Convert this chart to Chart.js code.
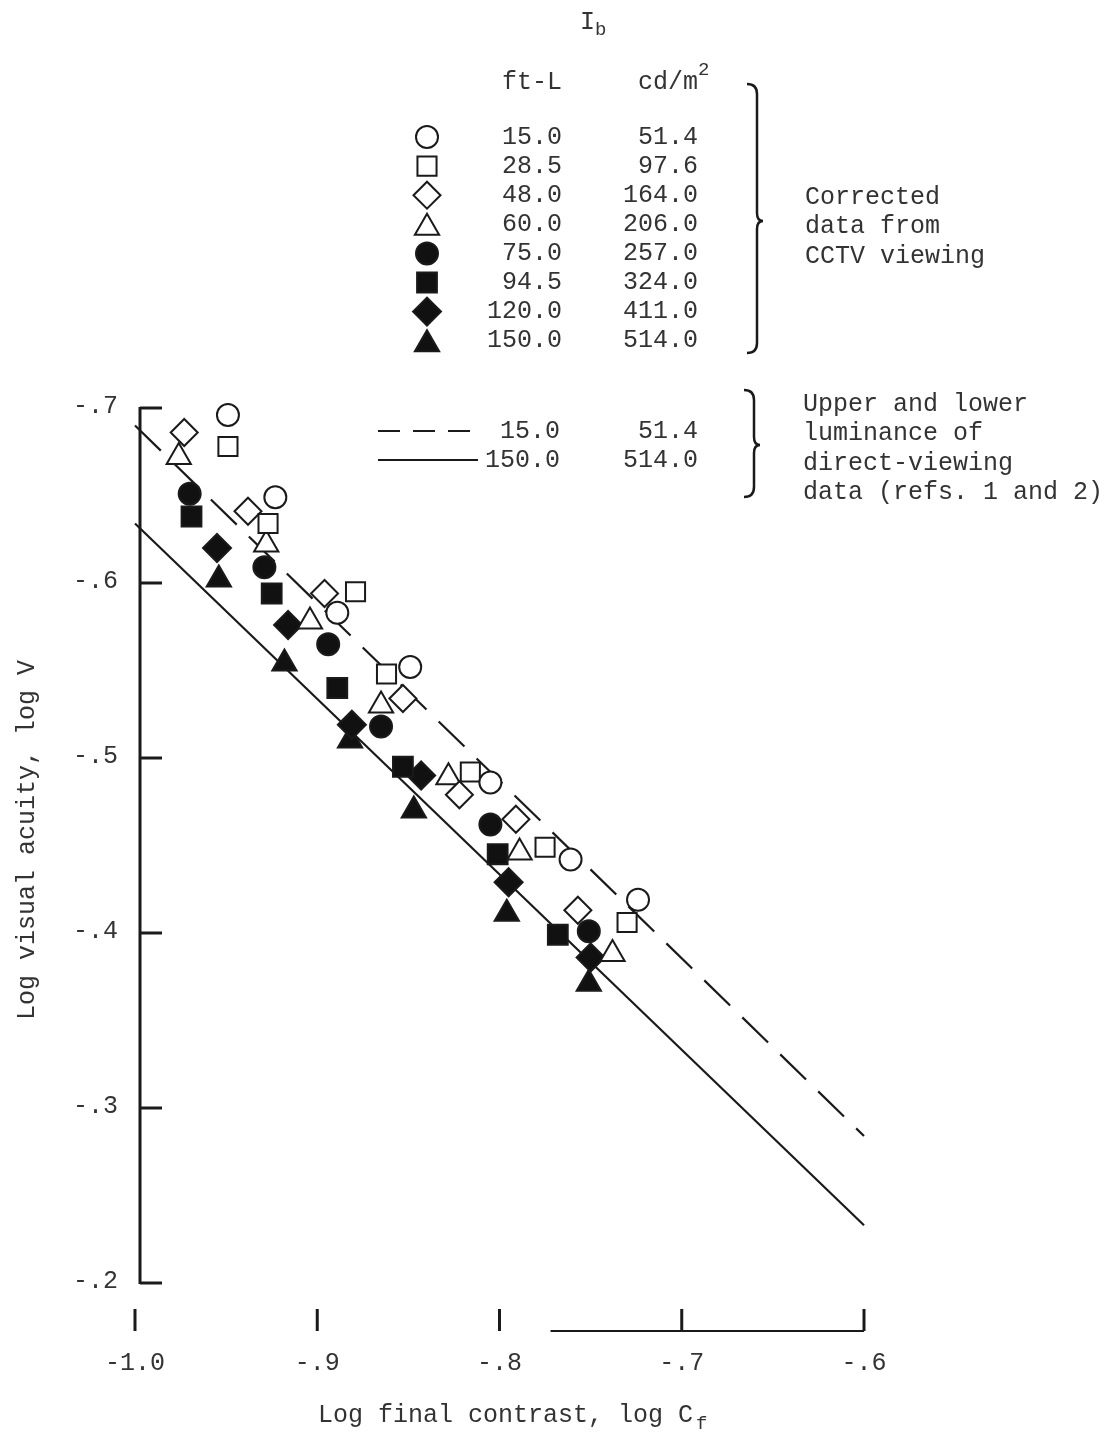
<!DOCTYPE html>
<html>
<head>
<meta charset="utf-8">
<script src="https://cdn.jsdelivr.net/npm/chart.js@4.4.1/dist/chart.umd.min.js"></script>
<style>
  html, body { margin: 0; padding: 0; background: #fff; }
  #wrap { width: 1114px; height: 1439px; }
</style>
</head>
<body>
<div id="wrap"><canvas id="chart" width="1114" height="1439"></canvas></div>
<script>
// axis ticks
const xTicks = [-1.0, -0.9, -0.8, -0.7, -0.6];
const xTickLabels = ['-1.0', '-.9', '-.8', '-.7', '-.6'];
const yTicks = [-0.7, -0.6, -0.5, -0.4, -0.3, -0.2];
const yTickLabels = ['-.7', '-.6', '-.5', '-.4', '-.3', '-.2'];

// background luminance I_b
const lumFtL = ['15.0', '28.5', '48.0', '60.0', '75.0', '94.5', '120.0', '150.0'];
const lumCd = ['51.4', '97.6', '164.0', '206.0', '257.0', '324.0', '411.0', '514.0'];

// corrected CCTV data (log Cf, log VA)
const ib15X = [-0.949, -0.923, -0.889, -0.849, -0.805, -0.761, -0.724];
const ib15Y = [-0.696, -0.649, -0.583, -0.552, -0.486, -0.442, -0.419];
const ib28X = [-0.949, -0.927, -0.879, -0.862, -0.816, -0.775, -0.730];
const ib28Y = [-0.678, -0.634, -0.595, -0.548, -0.492, -0.449, -0.406];
const ib48X = [-0.973, -0.938, -0.896, -0.853, -0.822, -0.791, -0.757];
const ib48Y = [-0.686, -0.641, -0.594, -0.534, -0.479, -0.465, -0.413];
const ib60X = [-0.976, -0.928, -0.904, -0.865, -0.828, -0.789, -0.738];
const ib60Y = [-0.672, -0.622, -0.578, -0.530, -0.489, -0.446, -0.388];
const ib75X = [-0.970, -0.929, -0.894, -0.865, -0.805, -0.751];
const ib75Y = [-0.651, -0.609, -0.565, -0.518, -0.462, -0.401];
const ib94X = [-0.969, -0.925, -0.889, -0.853, -0.801, -0.768];
const ib94Y = [-0.638, -0.594, -0.540, -0.495, -0.445, -0.399];
const ib120X = [-0.955, -0.916, -0.881, -0.843, -0.795, -0.750];
const ib120Y = [-0.620, -0.576, -0.519, -0.490, -0.429, -0.386];
const ib150X = [-0.954, -0.918, -0.882, -0.847, -0.796, -0.751];
const ib150Y = [-0.602, -0.554, -0.510, -0.470, -0.411, -0.371];

// direct-viewing reference lines
const upperLineX = [-1.0, -0.6];
const upperLineY = [-0.690, -0.284];
const lowerLineX = [-1.0, -0.6];
const lowerLineY = [-0.634, -0.233];

const FONT = '"Liberation Mono", "DejaVu Sans Mono", monospace';
const INK = '#1a1a1a';

function pts(xs, ys) {
  return xs.map((x, i) => ({ x: x, y: ys[i] }));
}

const markers = [
  { style: 'circle', r: 11, filled: false },
  { style: 'rect', r: 13.5, filled: false },
  { style: 'rectRot', r: 13.5, filled: false },
  { style: 'triangle', r: 14, filled: false },
  { style: 'circle', r: 11, filled: true },
  { style: 'rect', r: 14, filled: true },
  { style: 'rectRot', r: 14, filled: true },
  { style: 'triangle', r: 14, filled: true }
];
const seriesX = [ib15X, ib28X, ib48X, ib60X, ib75X, ib94X, ib120X, ib150X];
const seriesY = [ib15Y, ib28Y, ib48Y, ib60Y, ib75Y, ib94Y, ib120Y, ib150Y];

const datasets = markers.map((m, i) => ({
  type: 'scatter',
  label: lumFtL[i] + ' ft-L',
  data: pts(seriesX[i], seriesY[i]),
  pointStyle: m.style,
  pointRadius: m.r,
  pointHoverRadius: m.r,
  pointBorderWidth: 2,
  pointBorderColor: INK,
  pointBackgroundColor: m.filled ? '#111' : '#fff',
  showLine: false,
  clip: false
}));

datasets.push({
  type: 'line',
  label: 'Upper luminance (15.0 ft-L)',
  data: pts(upperLineX, upperLineY),
  borderColor: INK,
  borderWidth: 2.2,
  borderDash: [36, 17],
  pointRadius: 0,
  fill: false,
  clip: false
});
datasets.push({
  type: 'line',
  label: 'Lower luminance (150.0 ft-L)',
  data: pts(lowerLineX, lowerLineY),
  borderColor: INK,
  borderWidth: 2.2,
  pointRadius: 0,
  fill: false,
  clip: false
});

function marker(ctx, m, x, y) {
  ctx.save();
  ctx.lineWidth = 2;
  ctx.strokeStyle = INK;
  ctx.fillStyle = m.filled ? '#111' : '#fff';
  // triangles sit on their centroid, shift them to line up with the text
  const dy = m.style === 'triangle' ? m.r / 4 : 0;
  Chart.helpers.drawPoint(ctx, { pointStyle: m.style, radius: m.r, borderWidth: 2, rotation: 0 }, x, y + dy);
  ctx.restore();
}

function brace(ctx, x, top, mid, bottom) {
  ctx.save();
  ctx.strokeStyle = INK;
  ctx.lineWidth = 2.5;
  ctx.beginPath();
  ctx.moveTo(x - 10, top);
  ctx.quadraticCurveTo(x, top, x, top + 10);
  ctx.lineTo(x, mid - 8);
  ctx.quadraticCurveTo(x, mid, x + 6, mid);
  ctx.quadraticCurveTo(x, mid, x, mid + 8);
  ctx.lineTo(x, bottom - 10);
  ctx.quadraticCurveTo(x, bottom, x - 10, bottom);
  ctx.stroke();
  ctx.restore();
}

const paper = {
  id: 'paper',
  beforeDatasetsDraw(chart) {
    const ctx = chart.ctx;
    const xs = chart.scales.x, ys = chart.scales.y;
    ctx.save();
    ctx.strokeStyle = INK;
    ctx.fillStyle = '#333';
    ctx.font = '25px ' + FONT;

    // y axis with inward ticks
    const ax = xs.getPixelForValue(xTicks[0]) + 5;
    ctx.lineWidth = 3;
    ctx.beginPath();
    ctx.moveTo(ax, ys.getPixelForValue(yTicks[0]) - 1);
    ctx.lineTo(ax, ys.getPixelForValue(yTicks[yTicks.length - 1]) + 1);
    ctx.stroke();
    ctx.textAlign = 'right';
    ctx.textBaseline = 'middle';
    yTicks.forEach((v, i) => {
      const py = ys.getPixelForValue(v);
      ctx.beginPath();
      ctx.moveTo(ax, py);
      ctx.lineTo(ax + 22, py);
      ctx.stroke();
      ctx.fillText(yTickLabels[i], ax - 22, py - 2);
    });

    // x axis, set below the plot
    const by = ys.bottom + 48;
    ctx.lineWidth = 2;
    ctx.beginPath();
    ctx.moveTo(xs.getPixelForValue(-0.772), by);
    ctx.lineTo(xs.getPixelForValue(xTicks[xTicks.length - 1]), by);
    ctx.stroke();
    ctx.lineWidth = 3;
    ctx.textAlign = 'center';
    xTicks.forEach((v, i) => {
      const px = xs.getPixelForValue(v);
      ctx.beginPath();
      ctx.moveTo(px, by);
      ctx.lineTo(px, by - 22);
      ctx.stroke();
      ctx.fillText(xTickLabels[i], px, by + 32);
    });

    // axis titles
    ctx.textAlign = 'left';
    ctx.fillText('Log final contrast, log C', 318, 1415);
    ctx.font = '19px ' + FONT;
    ctx.fillText('f', 696, 1424);
    ctx.font = '25px ' + FONT;
    ctx.save();
    ctx.translate(27, 840);
    ctx.rotate(-Math.PI / 2);
    ctx.textAlign = 'center';
    ctx.fillText('Log visual acuity, log V', 0, 0);
    ctx.restore();
    ctx.restore();
  },
  afterDatasetsDraw(chart) {
    const ctx = chart.ctx;
    ctx.save();
    ctx.fillStyle = '#333';
    ctx.textBaseline = 'middle';
    ctx.font = '25px ' + FONT;

    // header
    ctx.textAlign = 'left';
    ctx.fillText('I', 580, 22);
    ctx.font = '19px ' + FONT;
    ctx.fillText('b', 595, 30);
    ctx.font = '25px ' + FONT;
    ctx.textAlign = 'center';
    ctx.fillText('ft-L', 532, 82);
    ctx.textAlign = 'left';
    ctx.fillText('cd/m', 638, 82);
    ctx.font = '19px ' + FONT;
    ctx.fillText('2', 698, 70);
    ctx.font = '25px ' + FONT;

    // marker rows
    markers.forEach((m, i) => {
      const y = 137 + i * 29.1;
      marker(ctx, m, 427, y);
      ctx.textAlign = 'right';
      ctx.fillText(lumFtL[i], 562, y);
      ctx.fillText(lumCd[i], 698, y);
    });
    brace(ctx, 757, 84, 221, 353);
    ctx.textAlign = 'left';
    ['Corrected', 'data from', 'CCTV viewing'].forEach((t, i) => {
      ctx.fillText(t, 805, 197 + i * 29.5);
    });

    // line legend
    ctx.save();
    ctx.strokeStyle = INK;
    ctx.lineWidth = 2.2;
    ctx.setLineDash([22, 13]);
    ctx.beginPath();
    ctx.moveTo(378, 431);
    ctx.lineTo(470, 431);
    ctx.stroke();
    ctx.setLineDash([]);
    ctx.beginPath();
    ctx.moveTo(378, 460);
    ctx.lineTo(478, 460);
    ctx.stroke();
    ctx.restore();
    ctx.textAlign = 'right';
    ctx.fillText(lumFtL[0], 560, 431);
    ctx.fillText(lumCd[0], 698, 431);
    ctx.fillText(lumFtL[7], 560, 460);
    ctx.fillText(lumCd[7], 698, 460);
    brace(ctx, 754, 390, 445, 497);
    ctx.textAlign = 'left';
    ['Upper and lower', 'luminance of', 'direct-viewing', 'data (refs. 1 and 2)'].forEach((t, i) => {
      ctx.fillText(t, 803, 404 + i * 29.5);
    });
    ctx.restore();
  }
};

new Chart(document.getElementById('chart'), {
  type: 'scatter',
  data: { datasets: datasets },
  options: {
    responsive: false,
    animation: false,
    layout: { padding: { left: 135, right: 250, top: 408, bottom: 156 } },
    plugins: {
      legend: { display: false },
      tooltip: { enabled: false }
    },
    scales: {
      x: { type: 'linear', min: -1.0, max: -0.6, display: false },
      y: { type: 'linear', min: -0.7, max: -0.2, reverse: true, display: false }
    }
  },
  plugins: [paper]
});
</script>
</body>
</html>
